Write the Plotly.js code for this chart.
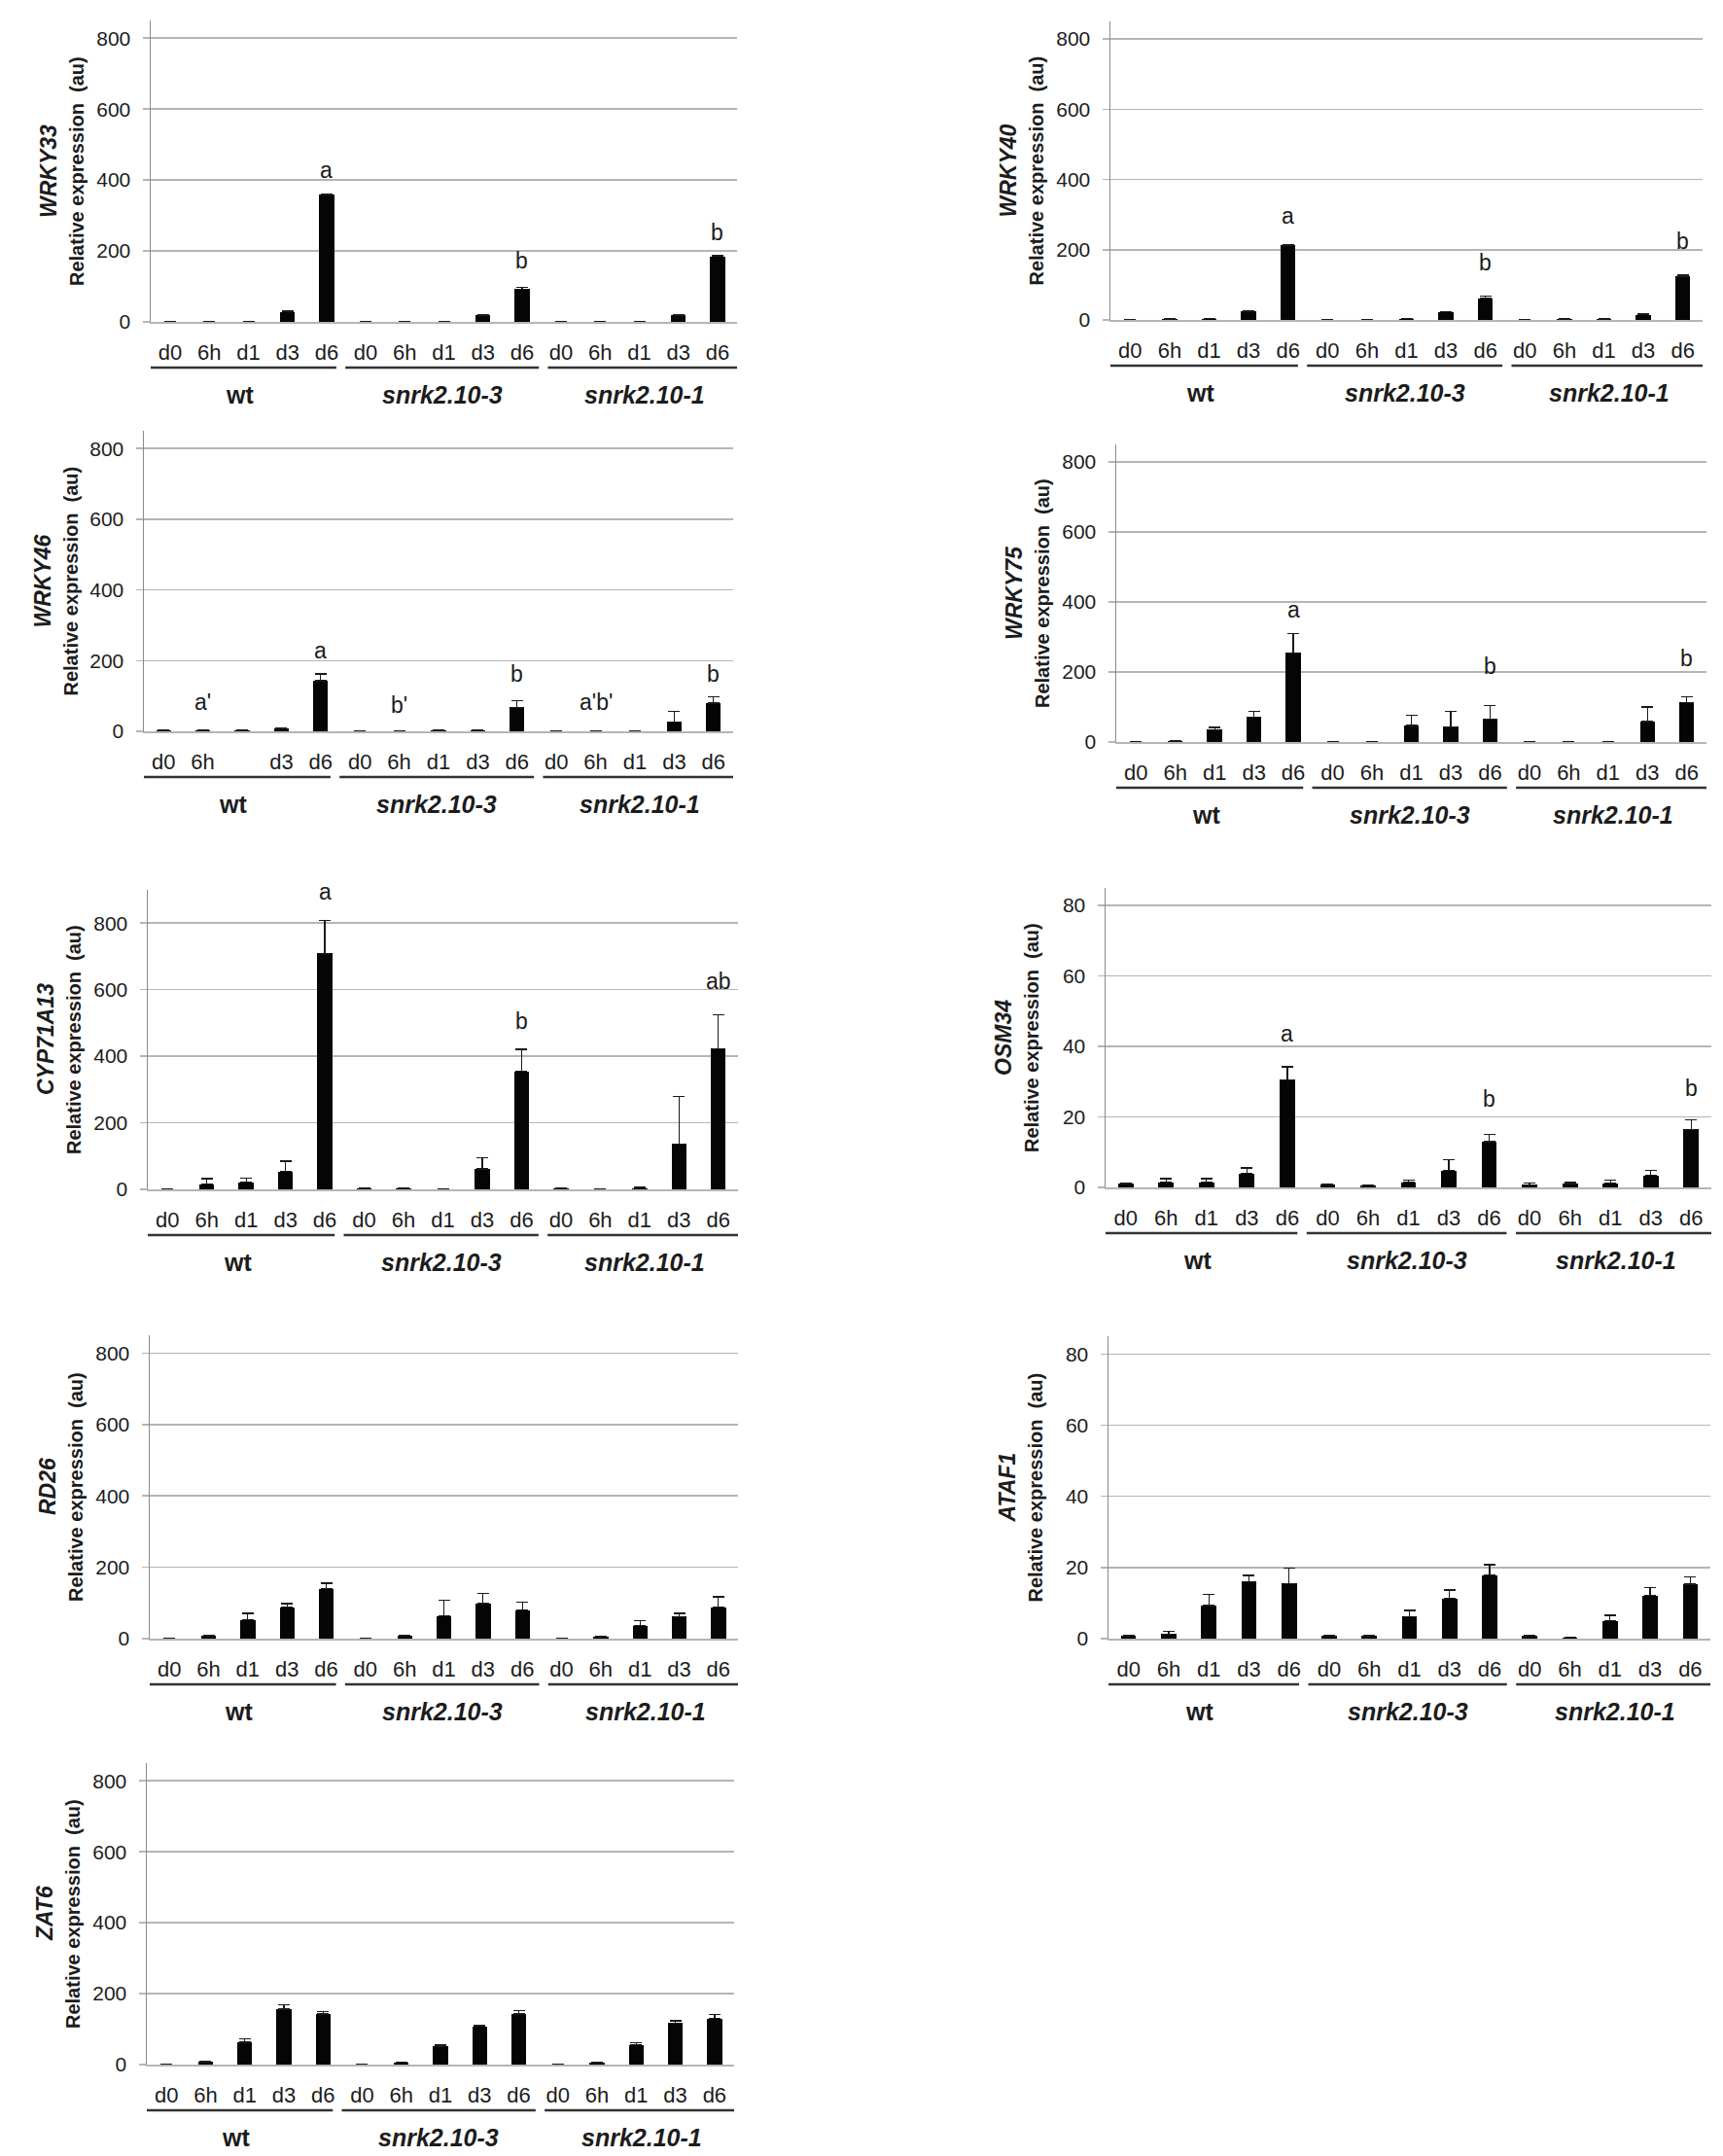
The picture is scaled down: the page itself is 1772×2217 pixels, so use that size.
<!DOCTYPE html>
<html>
<head>
<meta charset="utf-8">
<script src="https://cdn.plot.ly/plotly-3.0.1.min.js"></script>
<style>html,body{margin:0;padding:0;background:#ffffff;}</style>
</head>
<body>
<div id="chart" style="width:1772px;height:2217px;"></div>
<script>
// ---------------- DATA ----------------
const times = ['d0', '6h', 'd1', 'd3', 'd6'];
const genotypes = ['wt', 'snrk2.10-3', 'snrk2.10-1'];
const timesWRKY46wt = ['d0', '6h', '', 'd3', 'd6']; // wt d1 label absent in the original

const yTicks800 = [0, 200, 400, 600, 800];
const yTicks80 = [0, 20, 40, 60, 80];

// order: wt d0..d6, snrk2.10-3 d0..d6, snrk2.10-1 d0..d6
const WRKY33_mean = [1, 1, 1, 28, 358, 1, 1, 1, 18, 92, 1, 1, 1, 18, 185];
const WRKY33_err  = [0.5, 0.5, 0.5, 3, 3, 0.5, 0.5, 0.5, 2, 6, 0.5, 0.5, 0.5, 2, 3];
const WRKY33_sig  = [[4, 'a', 428], [9, 'b', 174], [14, 'b', 251]];

const WRKY40_mean = [0.5, 2, 4, 25, 212, 0.5, 0.5, 4, 23, 62, 0.5, 3, 2, 15, 125];
const WRKY40_err  = [0.3, 0.5, 1, 1, 2, 0.3, 0.3, 1, 1, 5, 0.3, 0.5, 0.5, 1.5, 2];
const WRKY40_sig  = [[4, 'a', 295], [9, 'b', 164], [14, 'b', 224]];

const WRKY46_mean = [2, 2, 2, 7, 143, 1, 1, 2, 2, 68, 1, 1, 1, 27, 80];
const WRKY46_err  = [0.5, 0.5, 0.5, 1, 19, 0.3, 0.3, 0.5, 0.5, 19, 0.3, 0.3, 0.3, 30, 18];
const WRKY46_sig  = [[1, "a'", 82], [4, 'a', 227], [6, "b'", 75], [9, 'b', 162], [11, "a'b'", 82], [14, 'b', 162]];

const WRKY75_mean = [0, 3, 35, 71, 255, 1, 1, 47, 44, 66, 0, 1, 1, 58, 113];
const WRKY75_err  = [0, 2, 7, 17, 54, 0.5, 0.5, 30, 44, 38, 0, 0.5, 0.5, 42, 16];
const WRKY75_sig  = [[4, 'a', 378], [9, 'b', 217], [14, 'b', 240]];

const CYP71A13_mean = [0, 16, 21, 54, 709, 2, 2, 0, 61, 355, 2, 0, 4, 136, 423];
const CYP71A13_err  = [0, 16, 13, 31, 99, 1, 1, 0, 35, 66, 1, 0, 2, 143, 102];
const CYP71A13_sig  = [[4, 'a', 894], [9, 'b', 505], [14, 'ab', 624]];

const OSM34_mean = [1, 1.5, 1.5, 4, 30.5, 0.7, 0.5, 1.5, 4.8, 13, 0.7, 1, 1.2, 3.4, 16.5];
const OSM34_err  = [0.2, 1, 1, 1.5, 3.7, 0.2, 0.2, 0.5, 3, 2, 0.5, 0.4, 0.8, 1.4, 2.7];
const OSM34_sig  = [[4, 'a', 43.5], [9, 'b', 25], [14, 'b', 28.2]];

const RD26_mean = [1, 8, 53, 88, 140, 1, 7, 64, 98, 80, 1, 5, 36, 62, 88];
const RD26_err  = [0.5, 1, 18, 10, 15, 0.5, 1, 43, 28, 23, 0.5, 1, 14, 9, 29];

const ATAF1_mean = [0.8, 1.3, 9.3, 16, 15.5, 0.8, 0.8, 6.2, 11.3, 17.9, 0.8, 0.4, 5, 12.1, 15.3];
const ATAF1_err  = [0.1, 0.7, 3.2, 1.8, 4.3, 0.1, 0.1, 1.7, 2.4, 2.9, 0.1, 0.1, 1.6, 2.3, 2.1];

const ZAT6_mean = [1, 7, 63, 156, 143, 1, 6, 51, 108, 143, 1, 5, 56, 117, 130];
const ZAT6_err  = [0.5, 1, 10, 13, 7, 0.5, 1, 4, 2, 10, 0.5, 1, 6, 6, 12];

// tick labels per genotype block
const ticksStd = [times, times, times];
const ticksWRKY46 = [timesWRKY46wt, times, times];

// ---------------- PANELS ----------------
// box: [left px, right px, zero-line px, top px] in the 1772x2217 page
const panels = [
  {gene: 'WRKY33',   mean: WRKY33_mean,   err: WRKY33_err,   sig: WRKY33_sig,   ticks: yTicks800, ymax: 850, tl: ticksStd,    box: [155, 758, 331, 21]},
  {gene: 'WRKY40',   mean: WRKY40_mean,   err: WRKY40_err,   sig: WRKY40_sig,   ticks: yTicks800, ymax: 850, tl: ticksStd,    box: [1142, 1751, 329, 22]},
  {gene: 'WRKY46',   mean: WRKY46_mean,   err: WRKY46_err,   sig: WRKY46_sig,   ticks: yTicks800, ymax: 850, tl: ticksWRKY46, box: [148, 754, 752, 443]},
  {gene: 'WRKY75',   mean: WRKY75_mean,   err: WRKY75_err,   sig: WRKY75_sig,   ticks: yTicks800, ymax: 850, tl: ticksStd,    box: [1148, 1755, 763, 457]},
  {gene: 'CYP71A13', mean: CYP71A13_mean, err: CYP71A13_err, sig: CYP71A13_sig, ticks: yTicks800, ymax: 900, tl: ticksStd,    box: [152, 759, 1223, 915]},
  {gene: 'OSM34',    mean: OSM34_mean,    err: OSM34_err,    sig: OSM34_sig,    ticks: yTicks80,  ymax: 85,  tl: ticksStd,    box: [1137, 1760, 1221, 913]},
  {gene: 'RD26',     mean: RD26_mean,     err: RD26_err,     sig: [],           ticks: yTicks800, ymax: 850, tl: ticksStd,    box: [154, 759, 1685, 1373]},
  {gene: 'ATAF1',    mean: ATAF1_mean,    err: ATAF1_err,    sig: [],           ticks: yTicks80,  ymax: 85,  tl: ticksStd,    box: [1140, 1759, 1685, 1374]},
  {gene: 'ZAT6',     mean: ZAT6_mean,     err: ZAT6_err,     sig: [],           ticks: yTicks800, ymax: 850, tl: ticksStd,    box: [151, 755, 2123, 1813]}
];

const W = 1772, H = 2217;
const FONT = 'Liberation Sans, Arial, Helvetica, sans-serif';
const GRID = '#b5b5b5';
const TXT = '#1c1c1c';

const nCat = genotypes.length * times.length;
const idx = Array.from({length: nCat}, (_, i) => i);

const data = [];
const layout = {
  width: W, height: H, autosize: false,
  margin: {l: 0, r: 0, t: 0, b: 0},
  paper_bgcolor: '#ffffff', plot_bgcolor: 'rgba(0,0,0,0)',
  showlegend: false, bargap: 0,
  annotations: [], shapes: []
};

const px2x = p => p / W;
const px2y = p => 1 - p / H;

panels.forEach((p, k) => {
  const n = k + 1;
  const xa = n === 1 ? 'x' : 'x' + n;
  const ya = n === 1 ? 'y' : 'y' + n;
  const [L, R, Y0, YT] = p.box;

  data.push({
    type: 'bar', x: idx, y: p.mean, xaxis: xa, yaxis: ya, width: 0.38,
    marker: {color: '#050505', line: {width: 0}},
    error_y: {type: 'data', symmetric: false, array: p.err, arrayminus: p.err.map(() => 0),
              color: '#1a1a1a', thickness: 1.3, width: 6},
    hoverinfo: 'skip'
  });

  const tickText = [].concat(...p.tl);

  layout['xaxis' + (n === 1 ? '' : n)] = {
    domain: [px2x(L), px2x(R)], anchor: ya, range: [-0.5, nCat - 0.5],
    tickmode: 'array', tickvals: idx, ticktext: tickText, ticks: '',
    ticklabelstandoff: 11,
    tickfont: {family: FONT, size: 22, color: TXT},
    showgrid: false, zeroline: false, showline: true, linecolor: GRID, linewidth: 1.6,
    fixedrange: true
  };
  layout['yaxis' + (n === 1 ? '' : n)] = {
    domain: [px2y(Y0), px2y(YT)], anchor: xa, range: [0, p.ymax],
    tickmode: 'array', tickvals: p.ticks, ticktext: p.ticks.map(String),
    ticks: 'outside', ticklen: 7, tickwidth: 1.5, tickcolor: GRID,
    ticklabelstandoff: 8,
    tickfont: {family: FONT, size: 21, color: TXT},
    showgrid: true, gridcolor: GRID, gridwidth: 1.5,
    zeroline: false, showline: true, linecolor: '#8a8a8a', linewidth: 1.5,
    fixedrange: true
  };

  // y-axis titles (gene name + unit line)
  layout.annotations.push({
    xref: xa + ' domain', yref: ya + ' domain', x: 0, y: 0.5, xshift: -105,
    text: '<b><i>' + p.gene + '</i></b>', textangle: -90, showarrow: false,
    xanchor: 'center', yanchor: 'middle', font: {family: FONT, size: 23, color: TXT}
  });
  layout.annotations.push({
    xref: xa + ' domain', yref: ya + ' domain', x: 0, y: 0.5, xshift: -76,
    text: '<b>Relative expression \u00a0(au)</b>', textangle: -90, showarrow: false,
    xanchor: 'center', yanchor: 'middle', font: {family: FONT, size: 20, color: TXT}
  });

  // significance letters
  p.sig.forEach(([i, t, yv]) => {
    layout.annotations.push({
      xref: xa, yref: ya, x: i, y: yv, text: t, showarrow: false,
      xanchor: 'center', yanchor: 'middle', font: {family: FONT, size: 23, color: TXT}
    });
  });

  // genotype underlines and labels
  genotypes.forEach((g, gi) => {
    const x0 = -0.7 + 5.18 * gi, x1 = x0 + 4.95;
    layout.shapes.push({
      type: 'line', xref: xa, yref: 'paper', x0: x0, x1: x1,
      y0: px2y(Y0 + 47), y1: px2y(Y0 + 47), line: {color: '#333333', width: 2.5}
    });
    const label = gi === 0 ? '<b>' + g + '</b>' : '<b><i>' + g + '</i></b>';
    layout.annotations.push({
      xref: xa, yref: 'paper', x: (x0 + x1) / 2, y: px2y(Y0 + 75), text: label,
      showarrow: false, xanchor: 'center', yanchor: 'middle',
      font: {family: FONT, size: 25, color: TXT}
    });
  });
});

Plotly.newPlot('chart', data, layout, {displayModeBar: false, staticPlot: true});
</script>
</body>
</html>
